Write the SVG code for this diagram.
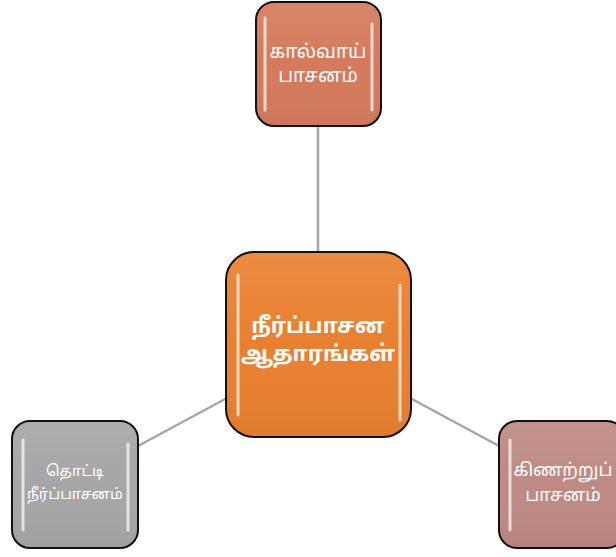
<svg xmlns="http://www.w3.org/2000/svg" width="616" height="557" viewBox="0 0 616 557">
<style>
.box{stroke:#111;stroke-width:2}
.hl{fill:none;stroke:#fff;stroke-opacity:0.7;stroke-width:3;stroke-linecap:round}
.t{fill:#fff;font-family:"Noto Sans Tamil","Noto Sans","DejaVu Sans",sans-serif;text-anchor:middle}
.c{stroke:#A5A5A5;stroke-width:2.5;fill:none}
</style>
<defs>
<linearGradient id="gl" x1="0" y1="0" x2="0" y2="1">
<stop offset="0" stop-color="#fff" stop-opacity="0.08"/>
<stop offset="0.5" stop-color="#fff" stop-opacity="0"/>
<stop offset="1" stop-color="#000" stop-opacity="0.04"/>
</linearGradient>
</defs>
<g id="connectors">
<line class="c" x1="318" y1="126" x2="318" y2="252"/>
<line class="c" x1="138" y1="446" x2="227" y2="398"/>
<line class="c" x1="410" y1="398" x2="499" y2="446"/>
</g>
<g id="top">
<rect class="box" x="256" y="2" width="125" height="124" rx="18" fill="#D57A5C"/>
<rect x="257" y="3" width="123" height="122" rx="17" fill="url(#gl)"/>
<line class="hl" x1="265" y1="18" x2="265" y2="110"/>
<line class="hl" x1="372" y1="24" x2="372" y2="110"/>
<text class="t" font-size="19" x="318" y="58">கால்வாய்</text>
<text class="t" font-size="19" x="318" y="82">பாசனம்</text>
</g>
<g id="center">
<rect class="box" x="226" y="252" width="185" height="185" rx="28" fill="#E98030"/>
<rect x="227" y="253" width="183" height="183" rx="27" fill="url(#gl)"/>
<line class="hl" x1="238" y1="275" x2="238" y2="415"/>
<line class="hl" x1="400" y1="285" x2="400" y2="420"/>
<text class="t" font-size="22" font-weight="bold" x="318" y="333">நீர்ப்பாசன</text>
<text class="t" font-size="22" font-weight="bold" x="318" y="361">ஆதாரங்கள்</text>
</g>
<g id="left">
<rect class="box" x="12" y="421" width="126" height="127" rx="18" fill="#A6A6A6"/>
<rect x="13" y="422" width="124" height="125" rx="17" fill="url(#gl)"/>
<line class="hl" x1="23" y1="440" x2="23" y2="530"/>
<line class="hl" x1="128" y1="444" x2="128" y2="530"/>
<text class="t" font-size="15" x="75" y="476">தொட்டி</text>
<text class="t" font-size="15" x="75" y="499">நீர்ப்பாசனம்</text>
</g>
<g id="right">
<rect class="box" x="499" y="421" width="126" height="127" rx="18" fill="#BE8A83"/>
<rect x="500" y="422" width="124" height="125" rx="17" fill="url(#gl)"/>
<line class="hl" x1="510" y1="440" x2="510" y2="530"/>
<text class="t" font-size="18" x="563" y="476">கிணற்றுப்</text>
<text class="t" font-size="18" x="563" y="501">பாசனம்</text>
</g>
</svg>
